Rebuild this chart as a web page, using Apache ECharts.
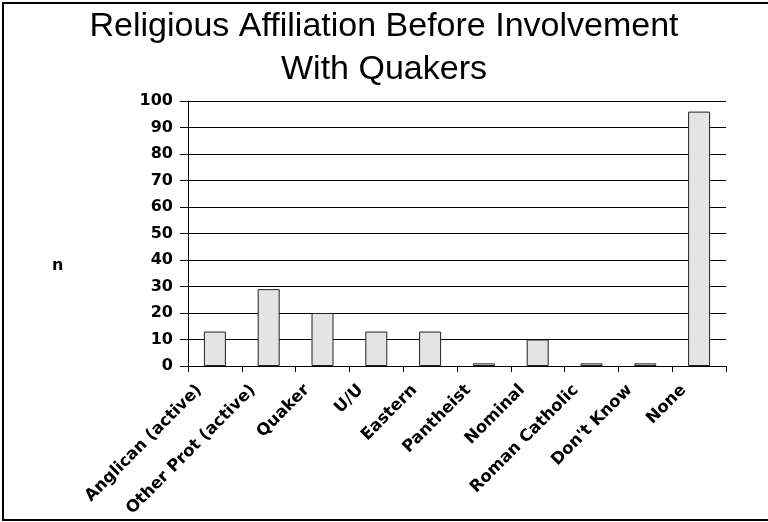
<!DOCTYPE html>
<html>
<head>
<meta charset="utf-8">
<script src="https://cdn.jsdelivr.net/npm/echarts@6/dist/echarts.min.js"></script>
<style>
html,body{margin:0;padding:0;background:#fff;}
#chart{width:768px;height:522px;}
</style>
</head>
<body>
<div id="chart"></div>
<script>
var categories = ["Anglican (active)", "Other Prot (active)", "Quaker", "U/U", "Eastern", "Pantheist", "Nominal", "Roman Catholic", "Don't Know", "None"];
var counts = [13, 29, 20, 13, 13, 1, 10, 1, 1, 96];
var yTicks = [0, 10, 20, 30, 40, 50, 60, 70, 80, 90, 100];
var titleLines = ["Religious Affiliation Before Involvement", "With Quakers"];
var yLabel = "n";

var chart = echarts.init(document.getElementById('chart'), null, {renderer: 'canvas'});
var boldFont = '"DejaVu Sans", sans-serif';
chart.setOption({
  animation: false,
  backgroundColor: '#fff',
  title: {
    text: titleLines.join('\n'),
    left: 'center',
    top: 5,
    padding: 0,
    textStyle: {fontFamily: '"Liberation Sans", Arial, sans-serif', fontWeight: 'normal', fontSize: 34, lineHeight: 43, color: '#000'}
  },
  graphic: [
    {type: 'rect', shape: {x: 3, y: 3, width: 800, height: 517}, style: {fill: 'none', stroke: '#000', lineWidth: 2}, silent: true},
    {type: 'text', left: 52, top: 258, style: {text: yLabel, font: 'bold 16px ' + boldFont, fill: '#000'}}
  ],
  grid: {left: 188, right: 42, top: 101, bottom: 156, containLabel: false},
  xAxis: {
    type: 'category',
    data: categories,
    boundaryGap: true,
    axisLine: {show: true, lineStyle: {color: '#000', width: 1}},
    axisTick: {show: true, alignWithLabel: false, length: 6, lineStyle: {color: '#000'}},
    axisLabel: {interval: 0, rotate: 45, margin: 6, padding: [0, 22, 0, 0], color: '#000', fontFamily: boldFont, fontWeight: 'bold', fontSize: 16.5},
    splitLine: {show: false}
  },
  yAxis: {
    type: 'value',
    min: yTicks[0],
    max: yTicks[yTicks.length - 1],
    interval: 10,
    axisLine: {show: true, lineStyle: {color: '#000', width: 1}},
    axisTick: {show: true, length: 8, lineStyle: {color: '#000'}},
    axisLabel: {margin: 15, color: '#000', fontFamily: boldFont, fontWeight: 'bold', fontSize: 16},
    splitLine: {show: true, lineStyle: {color: '#000', width: 1}}
  },
  series: [{
    type: 'bar',
    data: counts,
    barWidth: 22,
    itemStyle: {color: '#e4e4e4', borderColor: '#222', borderWidth: 1}
  }]
});
</script>
</body>
</html>
